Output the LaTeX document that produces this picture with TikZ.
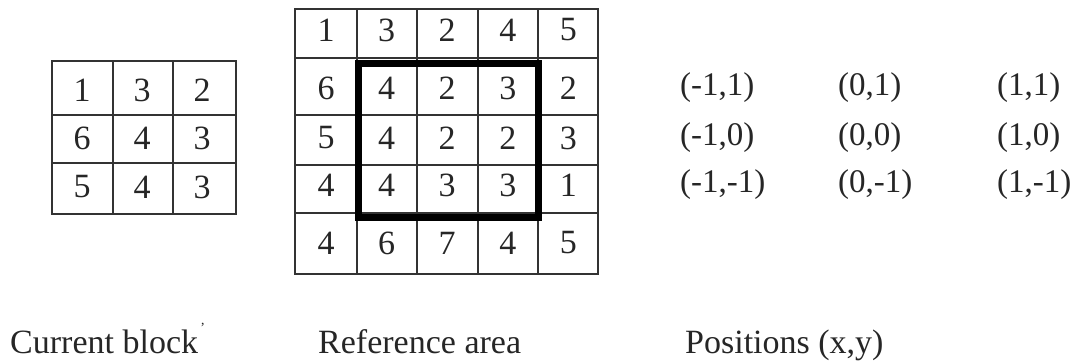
\documentclass[tikz,border=0pt]{standalone}
\usepackage{fontspec}
\setmainfont{Liberation Serif}
\begin{document}
\begin{tikzpicture}[x=1pt,y=-1pt,
  grid/.style={line width=1.6pt, draw=black!80},
  thick box/.style={line width=7pt, draw=black},
  num/.style={font=\fontsize{34}{40}\selectfont, text=black!85, inner sep=0pt},
  posl/.style={font=\fontsize{33}{40}\selectfont, text=black!85, anchor=west, inner sep=0pt},
  caplabel/.style={font=\fontsize{34}{40}\selectfont, text=black!85, anchor=base west, inner sep=0pt}]
\useasboundingbox (0,0) rectangle (1079,360);
% Current block grid
\draw[grid] (52,61) rectangle (236,214);
\foreach \x in {113,173} \draw[grid] (\x,61) -- (\x,214);
\foreach \y in {115,163} \draw[grid] (52,\y) -- (236,\y);
\foreach \t [count=\i from 0] in {1,3,2} \node[num] (c1\i) at (82+60*\i,90) {\t};
\foreach \t [count=\i from 0] in {6,4,3} \node[num] (c2\i) at (82+60*\i,138) {\t};
\foreach \t [count=\i from 0] in {5,4,3} \node[num] (c3\i) at (82+60*\i,187) {\t};
% Reference area grid
\draw[grid] (295,9) rectangle (598,274);
\foreach \x in {357,417,478,538} \draw[grid] (\x,9) -- (\x,274);
\foreach \y in {58,115,165,213} \draw[grid] (295,\y) -- (598,\y);
\foreach \t [count=\i from 0] in {1,3,2,4,5} \node[num] (r1\i) at (326+60.6*\i,30) {\t};
\foreach \t [count=\i from 0] in {6,4,2,3,2} \node[num] (r2\i) at (326+60.6*\i,88) {\t};
\foreach \t [count=\i from 0] in {5,4,2,2,3} \node[num] (r3\i) at (326+60.6*\i,138) {\t};
\foreach \t [count=\i from 0] in {4,4,3,3,1} \node[num] (r4\i) at (326+60.6*\i,185) {\t};
\foreach \t [count=\i from 0] in {4,6,7,4,5} \node[num] (r5\i) at (326+60.6*\i,243) {\t};
\draw[thick box] (358,63) rectangle (538,217);
% Positions
\node[posl] (p11) at (680,88) {(-1,1)};
\node[posl] (p12) at (838,88) {(0,1)};
\node[posl] (p13) at (997,88) {(1,1)};
\node[posl] (p21) at (680,138) {(-1,0)};
\node[posl] (p22) at (838,138) {(0,0)};
\node[posl] (p23) at (997,138) {(1,0)};
\node[posl] (p31) at (680,185) {(-1,-1)};
\node[posl] (p32) at (838,185) {(0,-1)};
\node[posl] (p33) at (997,185) {(1,-1)};
% Captions
\node[caplabel] (l1) at (10,353) {Current block\raisebox{0.6em}{\fontsize{14}{14}\selectfont\,'}};
\node[caplabel] (l2) at (318,353) {Reference area};
\node[caplabel] (l3) at (685,353) {Positions (x,y)};
\end{tikzpicture}
\end{document}
